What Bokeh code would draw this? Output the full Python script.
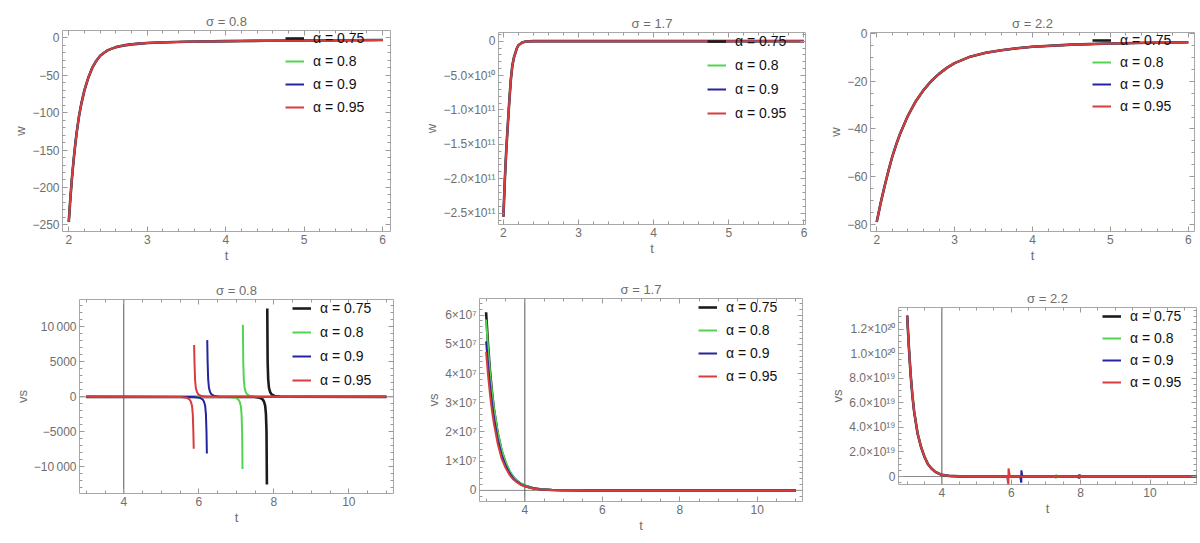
import numpy as np
from bokeh.plotting import figure
from bokeh.layouts import column, row
from bokeh.models import (Range1d, FixedTicker, CustomJSTickFormatter, LinearAxis,
                          Legend, LegendItem, Span)
from bokeh.embed import file_html
from bokeh.resources import INLINE

nan = float("nan")

# ---------------- labels / categories ----------------
alpha_labels = ["α = 0.75", "α = 0.8", "α = 0.9", "α = 0.95"]
series_colors = ["#1c1c1c", "#52d452", "#24249e", "#d83c3c"]
titles = ["σ = 0.8", "σ = 1.7", "σ = 2.2"]

# ---------------- top row: w(t) (the four alpha curves coincide) ----------------
w08_t = [2.00, 2.02, 2.04, 2.06, 2.08, 2.10, 2.13, 2.16, 2.20, 2.25, 2.30, 2.35, 2.40,
         2.45, 2.50, 2.60, 2.70, 2.80, 2.90, 3.00, 3.25, 3.50, 4.00, 4.50, 5.00, 5.50, 6.00]
w08_v = [-246, -215, -188, -165, -145, -127, -105, -88, -70, -53, -40, -31, -24,
         -20, -16.5, -12.5, -10.2, -8.8, -7.8, -7.0, -6.0, -5.3, -4.5, -4.0, -3.6, -3.3, -3.0]

w17_t = [2.00, 2.02, 2.04, 2.06, 2.08, 2.10, 2.12, 2.14, 2.16, 2.18, 2.20, 2.25, 2.30,
         2.40, 2.50, 3.00, 4.00, 5.00, 6.00]
w17_v = [-2.55e11, -2.0e11, -1.55e11, -1.2e11, -0.85e11, -0.55e11, -0.35e11, -0.24e11,
         -0.17e11, -0.10e11, -0.06e11, -0.02e11, -0.005e11, 0.0, 0.0, 0.0, 0.0, 0.0, 0.0]

w22_t = [2.00, 2.05, 2.10, 2.15, 2.20, 2.25, 2.30, 2.40, 2.50, 2.60, 2.70, 2.80, 2.90,
         3.00, 3.20, 3.40, 3.60, 3.80, 4.00, 4.50, 5.00, 5.50, 6.00]
w22_v = [-78.8, -71, -64, -57.5, -51.5, -46.5, -42, -34.5, -28.5, -23.8, -20, -17, -14.5,
         -12.5, -9.8, -8.2, -7.1, -6.3, -5.7, -4.8, -4.3, -4.0, -3.8]

# ---------------- bottom row: vs(t), sigma = 0.8 ----------------
vs08_t_075 = [3.0, 7.47, 7.62, 7.70, 7.74, 7.77, 7.79, 7.805, 7.815, nan,
              7.825, 7.835, 7.85, 7.87, 7.90, 7.94, 8.02, 8.17, 11.0]
vs08_v_075 = [0, -30, -120, -350, -700, -1300, -2500, -5000, -12500, nan,
              12600, 5000, 2500, 1300, 700, 350, 120, 30, 0]
vs08_t_080 = [3.0, 6.82, 6.97, 7.05, 7.09, 7.12, 7.14, 7.155, 7.165, nan,
              7.175, 7.185, 7.20, 7.22, 7.25, 7.29, 7.37, 7.52, 11.0]
vs08_v_080 = [0, -30, -120, -350, -700, -1300, -2500, -5000, -10300, nan,
              10300, 5000, 2500, 1300, 700, 350, 120, 30, 0]
vs08_t_090 = [3.0, 5.87, 6.02, 6.10, 6.14, 6.17, 6.19, 6.205, 6.215, nan,
              6.225, 6.235, 6.25, 6.27, 6.30, 6.34, 6.42, 6.57, 11.0]
vs08_v_090 = [0, -30, -120, -350, -700, -1300, -2500, -5000, -8100, nan,
              8100, 5000, 2500, 1300, 700, 350, 120, 30, 0]
vs08_t_095 = [3.0, 5.52, 5.67, 5.75, 5.79, 5.82, 5.84, 5.855, 5.865, nan,
              5.875, 5.885, 5.90, 5.92, 5.95, 5.99, 6.07, 6.22, 11.0]
vs08_v_095 = [0, -30, -120, -350, -700, -1300, -2500, -5000, -7400, nan,
              7400, 5000, 2500, 1300, 700, 350, 120, 30, 0]

# ---------------- bottom row: vs(t), sigma = 1.7 ----------------
vs17_t = [3.0, 3.05, 3.1, 3.15, 3.2, 3.3, 3.4, 3.5, 3.6, 3.7, 3.8, 3.9, 4.0,
          4.2, 4.4, 4.7, 5.0, 5.5, 6.0, 11.0]
vs17_v_075 = [6.10e7, 5.00e7, 4.10e7, 3.40e7, 2.80e7, 1.95e7, 1.35e7, 0.95e7, 0.65e7, 0.45e7,
              0.32e7, 0.22e7, 0.16e7, 0.08e7, 0.04e7, 0.015e7, 0.006e7, 0.001e7, 0, 0]
vs17_v_080 = [5.85e7, 4.90e7, 4.05e7, 3.40e7, 2.85e7, 2.00e7, 1.40e7, 0.98e7, 0.68e7, 0.47e7,
              0.33e7, 0.23e7, 0.165e7, 0.085e7, 0.04e7, 0.016e7, 0.006e7, 0.001e7, 0, 0]
vs17_v_090 = [5.10e7, 4.30e7, 3.60e7, 3.00e7, 2.50e7, 1.75e7, 1.22e7, 0.86e7, 0.60e7, 0.41e7,
              0.29e7, 0.20e7, 0.145e7, 0.07e7, 0.035e7, 0.013e7, 0.005e7, 0.001e7, 0, 0]
vs17_v_095 = [4.74e7, 3.95e7, 3.30e7, 2.75e7, 2.30e7, 1.60e7, 1.10e7, 0.78e7, 0.54e7, 0.38e7,
              0.27e7, 0.19e7, 0.13e7, 0.065e7, 0.03e7, 0.012e7, 0.005e7, 0.001e7, 0, 0]

# ---------------- bottom row: vs(t), sigma = 2.2 ----------------
vs22_t_075 = [3.0, 3.05, 3.1, 3.15, 3.2, 3.3, 3.4, 3.5, 3.6, 3.7, 3.8, 3.9, 4.0, 4.2, 4.5, 5.0,
              7.94, 7.958, 7.962, 7.98, 11.4]
vs22_v_075 = [1.31e20, 1.05e20, 8.3e19, 6.6e19, 5.3e19, 3.5e19, 2.4e19, 1.6e19, 1.0e19, 0.65e19,
              0.4e19, 0.25e19, 0.15e19, 0.05e19, 0.015e19, 0.002e19, 0, -0.15e19, 0.15e19, 0, 0]
vs22_t_080 = [3.0, 3.05, 3.1, 3.15, 3.2, 3.3, 3.4, 3.5, 3.6, 3.7, 3.8, 3.9, 4.0, 4.2, 4.5, 5.0,
              7.27, 7.288, 7.292, 7.31, 11.4]
vs22_v_080 = [1.30e20, 1.05e20, 8.4e19, 6.7e19, 5.4e19, 3.6e19, 2.45e19, 1.65e19, 1.05e19, 0.68e19,
              0.42e19, 0.26e19, 0.16e19, 0.05e19, 0.015e19, 0.002e19, 0, -0.15e19, 0.15e19, 0, 0]
vs22_t_090 = [3.0, 3.05, 3.1, 3.15, 3.2, 3.3, 3.4, 3.5, 3.6, 3.7, 3.8, 3.9, 4.0, 4.2, 4.5, 5.0,
              6.26, 6.288, 6.292, 6.32, 11.4]
vs22_v_090 = [1.31e20, 1.05e20, 8.3e19, 6.6e19, 5.3e19, 3.5e19, 2.4e19, 1.6e19, 1.0e19, 0.65e19,
              0.4e19, 0.25e19, 0.15e19, 0.05e19, 0.015e19, 0.002e19, 0, -0.5e19, 0.5e19, 0, 0]
vs22_t_095 = [3.0, 3.05, 3.1, 3.15, 3.2, 3.3, 3.4, 3.5, 3.6, 3.7, 3.8, 3.9, 4.0, 4.2, 4.5, 5.0,
              5.88, 5.918, 5.922, 5.96, 11.4]
vs22_v_095 = [1.31e20, 1.05e20, 8.3e19, 6.6e19, 5.3e19, 3.5e19, 2.4e19, 1.6e19, 1.0e19, 0.65e19,
              0.4e19, 0.25e19, 0.15e19, 0.05e19, 0.015e19, 0.002e19, 0, -0.65e19, 0.65e19, 0, 0]

# ---------------- tick values and labels ----------------
xt_w = [2, 3, 4, 5, 6]
xl_w = ["2", "3", "4", "5", "6"]
yt_w08 = [-250, -200, -150, -100, -50, 0]
yl_w08 = ["−250", "−200", "−150", "−100", "−50", "0"]
yt_w17 = [-2.5e11, -2.0e11, -1.5e11, -1.0e11, -5.0e10, 0]
yl_w17 = ["−2.5×10¹¹", "−2.0×10¹¹", "−1.5×10¹¹", "−1.0×10¹¹", "−5.0×10¹⁰", "0"]
yt_w22 = [-80, -60, -40, -20, 0]
yl_w22 = ["−80", "−60", "−40", "−20", "0"]
xt_vs = [4, 6, 8, 10]
xl_vs = ["4", "6", "8", "10"]
yt_vs08 = [-10000, -5000, 0, 5000, 10000]
yl_vs08 = ["−10\u2009000", "−5000", "0", "5000", "10\u2009000"]
yt_vs17 = [0, 1e7, 2e7, 3e7, 4e7, 5e7, 6e7]
yl_vs17 = ["0", "1×10⁷", "2×10⁷", "3×10⁷", "4×10⁷", "5×10⁷", "6×10⁷"]
yt_vs22 = [0, 2e19, 4e19, 6e19, 8e19, 1.0e20, 1.2e20]
yl_vs22 = ["0", "2.0×10¹⁹", "4.0×10¹⁹", "6.0×10¹⁹", "8.0×10¹⁹", "1.0×10²⁰", "1.2×10²⁰"]

FONT = "Liberation Sans"
GRAY = "#6e6e6e"
TICKC = "#9a9a9a"

JS = """
for (let i = 0; i < vals.length; i++) {
  const v = vals[i];
  if (Math.abs(tick - v) <= 1e-6 * Math.max(1, Math.abs(v))) return labs[i];
}
return '';
"""


def style_axis(ax, show_labels=True):
    ax.axis_line_color = None
    ax.major_tick_in = 5
    ax.major_tick_out = 0
    ax.minor_tick_in = 3
    ax.minor_tick_out = 0
    ax.major_tick_line_color = TICKC
    ax.minor_tick_line_color = TICKC
    if show_labels:
        ax.major_label_text_font = FONT
        ax.major_label_text_font_size = "12px"
        ax.major_label_text_color = GRAY
        ax.major_label_standoff = 3
        ax.axis_label_text_font = FONT
        ax.axis_label_text_font_size = "13px"
        ax.axis_label_text_font_style = "normal"
        ax.axis_label_text_color = GRAY
        ax.axis_label_standoff = 1
    else:
        ax.major_label_text_font_size = "0px"
        ax.major_label_standoff = 0


def make_fig(w, h, borders, xr, yr, xt, xminor, xl, yt, yminor, yl, title, ylabel,
             series, legend_loc, legend_spacing, spans=False):
    l, r, t, b = borders
    p = figure(width=w, height=h, x_range=Range1d(*xr), y_range=Range1d(*yr),
               output_backend="svg", toolbar_location=None,
               min_border_left=l, min_border_right=r, min_border_top=t, min_border_bottom=b,
               x_axis_label="t", y_axis_label=ylabel, title=title)
    try:
        p.frame_align = False
    except Exception:
        pass
    p.xgrid.visible = False
    p.ygrid.visible = False
    p.outline_line_color = "#a8a8a8"
    p.outline_line_width = 1
    p.background_fill_color = "white"
    p.border_fill_color = "white"
    p.title.align = "center"
    p.title.text_font = FONT
    p.title.text_font_style = "normal"
    p.title.text_font_size = "13px"
    p.title.text_color = GRAY
    p.title.standoff = 3

    p.xaxis[0].ticker = FixedTicker(ticks=xt, minor_ticks=xminor)
    p.xaxis[0].formatter = CustomJSTickFormatter(args=dict(vals=xt, labs=xl), code=JS)
    p.yaxis[0].ticker = FixedTicker(ticks=yt, minor_ticks=yminor)
    p.yaxis[0].formatter = CustomJSTickFormatter(args=dict(vals=yt, labs=yl), code=JS)
    style_axis(p.xaxis[0])
    style_axis(p.yaxis[0])

    top = LinearAxis(ticker=FixedTicker(ticks=xt, minor_ticks=xminor),
                     formatter=CustomJSTickFormatter(code="return '';"))
    right = LinearAxis(ticker=FixedTicker(ticks=yt, minor_ticks=yminor),
                       formatter=CustomJSTickFormatter(code="return '';"))
    style_axis(top, False)
    style_axis(right, False)
    p.add_layout(top, "above")
    p.add_layout(right, "right")

    if spans:
        p.add_layout(Span(location=0, dimension="width", line_color="#8a8a8a",
                          line_width=1, level="underlay"))
        p.add_layout(Span(location=4, dimension="height", line_color="#555555",
                          line_width=1, level="underlay"))

    rends = []
    for (tx, vy), col in zip(series, series_colors):
        lw = 2.6 if col == series_colors[0] else 2.0
        rends.append(p.line(np.array(tx, dtype=float), np.array(vy, dtype=float),
                            line_color=col, line_width=lw))
    leg = Legend(items=[LegendItem(label=lab, renderers=[rr]) for lab, rr in zip(alpha_labels, rends)],
                 location=legend_loc, orientation="vertical",
                 border_line_color=None, background_fill_alpha=0,
                 label_text_font=FONT, label_text_font_size="14px", label_text_color="#111111",
                 glyph_width=19, glyph_height=18, label_height=18,
                 spacing=legend_spacing, padding=0, margin=0, label_standoff=9)
    p.add_layout(leg)
    return p


def minors(a, b, step, majors):
    vals = np.round(np.arange(a, b + step / 2, step), 6)
    return [float(v) for v in vals if not np.any(np.isclose(v, majors))]


p1 = make_fig(400, 265, (62, 10, 30, 33), (1.92, 6.1), (-258.8, 9.7),
              xt_w, minors(1.8, 6.2, 0.2, xt_w), xl_w,
              yt_w08, minors(-260, 10, 10, yt_w08), yl_w08, titles[0], "w",
              [(w08_t, w08_v)] * 4, (223, 115), 5)
p2 = make_fig(408, 265, (98, 3, 32, 41), (1.935, 6.02), (-2.665e11, 0.126e11),
              xt_w, minors(1.8, 6.2, 0.2, xt_w), xl_w,
              yt_w17, minors(-2.7e11, 0.2e11, 1e10, yt_w17), yl_w17, titles[1], "w",
              [(w17_t, w17_v)] * 4, (209, 102), 6)
p3 = make_fig(390, 265, (62, 4, 32, 33), (1.92, 6.08), (-82.8, 0.28),
              xt_w, minors(1.8, 6.2, 0.2, xt_w), xl_w,
              yt_w22, minors(-85, 5, 5, yt_w22), yl_w22, titles[2], "w",
              [(w22_t, w22_v)] * 4, (222, 116), 4)
p4 = make_fig(400, 276, (79, 7, 34, 48), (2.82, 11.19), (-13800, 13900),
              xt_vs, minors(3, 11.5, 0.5, xt_vs), xl_vs,
              yt_vs08, minors(-14000, 14000, 1000, yt_vs08), yl_vs08, titles[0], "vs",
              [(vs08_t_075, vs08_v_075), (vs08_t_080, vs08_v_080),
               (vs08_t_090, vs08_v_090), (vs08_t_095, vs08_v_095)],
              (213, 104), 6, spans=True)
p5 = make_fig(408, 276, (79, 6, 33, 40), (2.83, 11.17), (-0.38e7, 6.57e7),
              xt_vs, minors(3, 11.5, 0.5, xt_vs), xl_vs,
              yt_vs17, minors(-0.4e7, 6.6e7, 0.2e7, yt_vs17), yl_vs17, titles[1], "vs",
              [(vs17_t, vs17_v_075), (vs17_t, vs17_v_080),
               (vs17_t, vs17_v_090), (vs17_t, vs17_v_095)],
              (219, 116), 5, spans=True)
p6 = make_fig(390, 276, (90, 2, 42, 57), (2.75, 11.34), (-0.065e20, 1.376e20),
              xt_vs, minors(3, 11.5, 0.5, xt_vs), xl_vs,
              yt_vs22, minors(-0.5e19, 1.4e20, 0.5e19, yt_vs22), yl_vs22, titles[2], "vs",
              [(vs22_t_075, vs22_v_075), (vs22_t_080, vs22_v_080),
               (vs22_t_090, vs22_v_090), (vs22_t_095, vs22_v_095)],
              (204, 93), 4, spans=True)

layout = column(row(p1, p2, p3), row(p4, p5, p6))
open("out.html", "w").write(file_html(layout, INLINE))
